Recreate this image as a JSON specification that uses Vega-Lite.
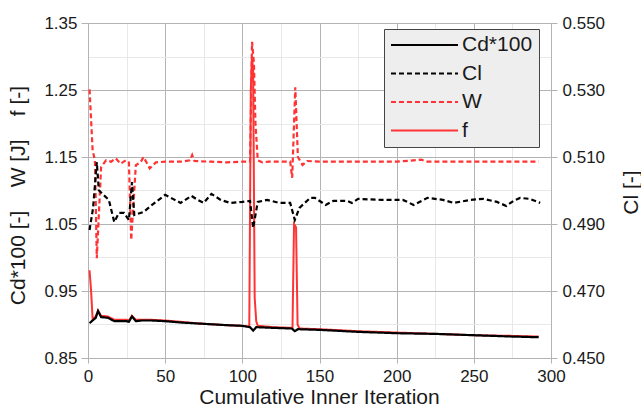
{
  "$schema": "https://vega.github.io/schema/vega-lite/v6.json",
  "width": 463,
  "height": 335,
  "autosize": {"type": "none"},
  "padding": {"left": 88, "top": 23, "right": 90, "bottom": 56},
  "background": "white",
  "config": {
    "font": "Liberation Sans",
    "view": {"stroke": null},
    "axis": {
      "labelFont": "Liberation Sans",
      "titleFont": "Liberation Sans",
      "labelFontSize": 17,
      "titleFontSize": 21,
      "titleFontWeight": "normal",
      "labelColor": "#1a1a1a",
      "titleColor": "#1a1a1a",
      "domainColor": "#b3b3b3",
      "tickColor": "#b3b3b3",
      "domainWidth": 1,
      "tickWidth": 1,
      "labelFlush": false
    }
  },
  "data": {
    "values": [
      {"x": 1, "s": "Cd*100", "v": 0.902},
      {"x": 3, "s": "Cd*100", "v": 0.906},
      {"x": 5, "s": "Cd*100", "v": 0.910},
      {"x": 6.5, "s": "Cd*100", "v": 0.920},
      {"x": 8.5, "s": "Cd*100", "v": 0.911},
      {"x": 13, "s": "Cd*100", "v": 0.910},
      {"x": 17, "s": "Cd*100", "v": 0.905},
      {"x": 25, "s": "Cd*100", "v": 0.905},
      {"x": 26.5, "s": "Cd*100", "v": 0.904},
      {"x": 28.5, "s": "Cd*100", "v": 0.912},
      {"x": 31, "s": "Cd*100", "v": 0.905},
      {"x": 35, "s": "Cd*100", "v": 0.906},
      {"x": 41, "s": "Cd*100", "v": 0.906},
      {"x": 50, "s": "Cd*100", "v": 0.905},
      {"x": 60, "s": "Cd*100", "v": 0.903},
      {"x": 75, "s": "Cd*100", "v": 0.901},
      {"x": 90, "s": "Cd*100", "v": 0.899},
      {"x": 100, "s": "Cd*100", "v": 0.898},
      {"x": 105, "s": "Cd*100", "v": 0.896},
      {"x": 107, "s": "Cd*100", "v": 0.891},
      {"x": 109, "s": "Cd*100", "v": 0.896},
      {"x": 120, "s": "Cd*100", "v": 0.895},
      {"x": 132, "s": "Cd*100", "v": 0.894},
      {"x": 134, "s": "Cd*100", "v": 0.890},
      {"x": 136, "s": "Cd*100", "v": 0.893},
      {"x": 150, "s": "Cd*100", "v": 0.892},
      {"x": 175, "s": "Cd*100", "v": 0.889},
      {"x": 200, "s": "Cd*100", "v": 0.887},
      {"x": 225, "s": "Cd*100", "v": 0.886},
      {"x": 250, "s": "Cd*100", "v": 0.884},
      {"x": 275, "s": "Cd*100", "v": 0.882},
      {"x": 292, "s": "Cd*100", "v": 0.881},

      {"x": 1, "s": "f", "v": 0.981},
      {"x": 2, "s": "f", "v": 0.950},
      {"x": 3, "s": "f", "v": 0.908},
      {"x": 5, "s": "f", "v": 0.912},
      {"x": 6.5, "s": "f", "v": 0.921},
      {"x": 8.5, "s": "f", "v": 0.913},
      {"x": 13, "s": "f", "v": 0.912},
      {"x": 17, "s": "f", "v": 0.907},
      {"x": 25, "s": "f", "v": 0.907},
      {"x": 26.5, "s": "f", "v": 0.906},
      {"x": 28.5, "s": "f", "v": 0.913},
      {"x": 31, "s": "f", "v": 0.907},
      {"x": 41, "s": "f", "v": 0.907},
      {"x": 50, "s": "f", "v": 0.906},
      {"x": 60, "s": "f", "v": 0.904},
      {"x": 75, "s": "f", "v": 0.901},
      {"x": 90, "s": "f", "v": 0.899},
      {"x": 100, "s": "f", "v": 0.898},
      {"x": 104.5, "s": "f", "v": 0.897},
      {"x": 105.5, "s": "f", "v": 1.25},
      {"x": 106.2, "s": "f", "v": 1.30},
      {"x": 107, "s": "f", "v": 1.28},
      {"x": 108, "s": "f", "v": 0.94},
      {"x": 109, "s": "f", "v": 0.905},
      {"x": 110, "s": "f", "v": 0.898},
      {"x": 120, "s": "f", "v": 0.896},
      {"x": 132.5, "s": "f", "v": 0.895},
      {"x": 133.5, "s": "f", "v": 1.05},
      {"x": 134.8, "s": "f", "v": 1.045},
      {"x": 135.8, "s": "f", "v": 0.90},
      {"x": 137, "s": "f", "v": 0.894},
      {"x": 150, "s": "f", "v": 0.893},
      {"x": 175, "s": "f", "v": 0.890},
      {"x": 200, "s": "f", "v": 0.888},
      {"x": 225, "s": "f", "v": 0.886},
      {"x": 250, "s": "f", "v": 0.884},
      {"x": 275, "s": "f", "v": 0.883},
      {"x": 292, "s": "f", "v": 0.882},

      {"x": 1, "s": "W", "v": 1.251},
      {"x": 3, "s": "W", "v": 1.16},
      {"x": 4.5, "s": "W", "v": 1.145},
      {"x": 5.7, "s": "W", "v": 0.999},
      {"x": 8.5, "s": "W", "v": 1.135},
      {"x": 11.7, "s": "W", "v": 1.145},
      {"x": 15, "s": "W", "v": 1.143},
      {"x": 18, "s": "W", "v": 1.148},
      {"x": 21, "s": "W", "v": 1.140},
      {"x": 24.5, "s": "W", "v": 1.145},
      {"x": 26.5, "s": "W", "v": 1.142},
      {"x": 28, "s": "W", "v": 1.026},
      {"x": 31, "s": "W", "v": 1.138},
      {"x": 34, "s": "W", "v": 1.142},
      {"x": 36, "s": "W", "v": 1.150},
      {"x": 40, "s": "W", "v": 1.133},
      {"x": 44, "s": "W", "v": 1.142},
      {"x": 50, "s": "W", "v": 1.143},
      {"x": 60, "s": "W", "v": 1.143},
      {"x": 66, "s": "W", "v": 1.145},
      {"x": 67.5, "s": "W", "v": 1.153},
      {"x": 69, "s": "W", "v": 1.144},
      {"x": 80, "s": "W", "v": 1.143},
      {"x": 90, "s": "W", "v": 1.142},
      {"x": 100, "s": "W", "v": 1.143},
      {"x": 105, "s": "W", "v": 1.143},
      {"x": 106.3, "s": "W", "v": 1.322},
      {"x": 107.5, "s": "W", "v": 1.29},
      {"x": 108.5, "s": "W", "v": 1.20},
      {"x": 110, "s": "W", "v": 1.145},
      {"x": 113, "s": "W", "v": 1.142},
      {"x": 117, "s": "W", "v": 1.143},
      {"x": 125, "s": "W", "v": 1.143},
      {"x": 131, "s": "W", "v": 1.143},
      {"x": 132.3, "s": "W", "v": 1.119},
      {"x": 134.3, "s": "W", "v": 1.254},
      {"x": 136, "s": "W", "v": 1.150},
      {"x": 139, "s": "W", "v": 1.138},
      {"x": 142, "s": "W", "v": 1.144},
      {"x": 150, "s": "W", "v": 1.143},
      {"x": 175, "s": "W", "v": 1.143},
      {"x": 200, "s": "W", "v": 1.143},
      {"x": 216, "s": "W", "v": 1.146},
      {"x": 220, "s": "W", "v": 1.143},
      {"x": 250, "s": "W", "v": 1.143},
      {"x": 275, "s": "W", "v": 1.143},
      {"x": 292, "s": "W", "v": 1.143},

      {"x": 1, "s": "Cl", "v": 0.4882},
      {"x": 3.3, "s": "Cl", "v": 0.4948},
      {"x": 5.7, "s": "Cl", "v": 0.5085},
      {"x": 7, "s": "Cl", "v": 0.5001},
      {"x": 10, "s": "Cl", "v": 0.4987},
      {"x": 13.5, "s": "Cl", "v": 0.4972},
      {"x": 17, "s": "Cl", "v": 0.4906},
      {"x": 20, "s": "Cl", "v": 0.4933},
      {"x": 23.3, "s": "Cl", "v": 0.4933},
      {"x": 26.5, "s": "Cl", "v": 0.4912},
      {"x": 28.5, "s": "Cl", "v": 0.5025},
      {"x": 30, "s": "Cl", "v": 0.4927},
      {"x": 36, "s": "Cl", "v": 0.4936},
      {"x": 41.5, "s": "Cl", "v": 0.4957},
      {"x": 50, "s": "Cl", "v": 0.4987},
      {"x": 55, "s": "Cl", "v": 0.4975},
      {"x": 60, "s": "Cl", "v": 0.4963},
      {"x": 67, "s": "Cl", "v": 0.4984},
      {"x": 71, "s": "Cl", "v": 0.4972},
      {"x": 75, "s": "Cl", "v": 0.4963},
      {"x": 80, "s": "Cl", "v": 0.4990},
      {"x": 86, "s": "Cl", "v": 0.4972},
      {"x": 92, "s": "Cl", "v": 0.4963},
      {"x": 100, "s": "Cl", "v": 0.4966},
      {"x": 105, "s": "Cl", "v": 0.4969},
      {"x": 107, "s": "Cl", "v": 0.4888},
      {"x": 110, "s": "Cl", "v": 0.4966},
      {"x": 116, "s": "Cl", "v": 0.4972},
      {"x": 124, "s": "Cl", "v": 0.4963},
      {"x": 131, "s": "Cl", "v": 0.4963},
      {"x": 134, "s": "Cl", "v": 0.4912},
      {"x": 137, "s": "Cl", "v": 0.4948},
      {"x": 144, "s": "Cl", "v": 0.4978},
      {"x": 147, "s": "Cl", "v": 0.4978},
      {"x": 154, "s": "Cl", "v": 0.4957},
      {"x": 159, "s": "Cl", "v": 0.4969},
      {"x": 168, "s": "Cl", "v": 0.4969},
      {"x": 171, "s": "Cl", "v": 0.4963},
      {"x": 175, "s": "Cl", "v": 0.4975},
      {"x": 190, "s": "Cl", "v": 0.4972},
      {"x": 204, "s": "Cl", "v": 0.4972},
      {"x": 211, "s": "Cl", "v": 0.4957},
      {"x": 220, "s": "Cl", "v": 0.4978},
      {"x": 230, "s": "Cl", "v": 0.4972},
      {"x": 237, "s": "Cl", "v": 0.4963},
      {"x": 248, "s": "Cl", "v": 0.4972},
      {"x": 256, "s": "Cl", "v": 0.4975},
      {"x": 265, "s": "Cl", "v": 0.4966},
      {"x": 271, "s": "Cl", "v": 0.4954},
      {"x": 276, "s": "Cl", "v": 0.4970},
      {"x": 280, "s": "Cl", "v": 0.4978},
      {"x": 286, "s": "Cl", "v": 0.4975},
      {"x": 293, "s": "Cl", "v": 0.4963}
    ]
  },
  "encoding": {
    "x": {
      "field": "x",
      "type": "quantitative",
      "scale": {"domain": [0, 300], "nice": false, "zero": false},
      "axis": {
        "title": "Cumulative Inner Iteration",
        "values": [0, 25, 50, 75, 100, 125, 150, 175, 200, 225, 250, 275, 300],
        "labelExpr": "datum.value % 50 == 0 ? datum.label : ''",
        "labelFlush": false,
        "grid": true,
        "gridColor": {"condition": {"test": "datum.value % 50 == 0", "value": "#b3b3b3"}, "value": "#e8e8e8"},
        "tickOpacity": {"condition": {"test": "datum.value % 50 == 0", "value": 1}, "value": 0},
        "tickSize": 5,
        "labelPadding": 5,
        "titleX": 231,
        "titleY": 39,
        "titleBaseline": "middle"
      }
    },
    "color": {
      "field": "s",
      "type": "nominal",
      "scale": {"domain": ["Cd*100", "Cl", "W", "f"], "range": ["#000000", "#000000", "#ff3333", "#ff3333"]},
      "legend": {
        "title": null,
        "orient": "none",
        "legendX": 296,
        "legendY": 6,
        "padding": 6,
        "fillColor": "#eeeeee",
        "strokeColor": "#444444",
        "symbolType": "stroke",
        "symbolSize": 4489,
        "symbolStrokeWidth": 2,
        "clipHeight": 20,
        "rowPadding": 7.5,
        "labelFontSize": 21,
        "labelFont": "Liberation Sans",
        "labelColor": "#1a1a1a",
        "labelOffset": 3
      }
    },
    "strokeDash": {
      "field": "s",
      "type": "nominal",
      "scale": {"domain": ["Cd*100", "Cl", "W", "f"], "range": [[1, 0], [5, 3], [5, 3], [1, 0]]},
      "legend": {
        "title": null,
        "orient": "none",
        "legendX": 296,
        "legendY": 6
      }
    }
  },
  "layer": [
    {
      "encoding": {
        "y": {
          "field": "v",
          "type": "quantitative",
          "scale": {"domain": [0.85, 1.35], "nice": false, "zero": false},
          "axis": {
            "title": "Cd*100 [-]\u00a0\u00a0\u00a0\u00a0W [J]\u00a0\u00a0\u00a0\u00a0f [-]",
            "values": [0.85, 0.9, 0.95, 1.0, 1.05, 1.1, 1.15, 1.2, 1.25, 1.3, 1.35],
            "labelExpr": "round(datum.value*100) % 10 == 5 ? format(datum.value, '.2f') : ''",
            "grid": true,
            "gridColor": {"condition": {"test": "round(datum.value*100) % 10 == 5", "value": "#b3b3b3"}, "value": "#e8e8e8"},
            "tickOpacity": {"condition": {"test": "round(datum.value*100) % 10 == 5", "value": 1}, "value": 0},
            "tickSize": 7,
            "labelPadding": 4,
            "titleX": -70,
            "titleY": 172,
            "titleAngle": 270,
            "titleBaseline": "middle"
          }
        }
      },
      "layer": [
        {
          "transform": [{"filter": "datum.s == 'f'"}],
          "mark": {"type": "line", "strokeWidth": 2, "clip": true}
        },
        {
          "transform": [{"filter": "datum.s == 'W'"}],
          "mark": {"type": "line", "strokeWidth": 2.2, "clip": true}
        },
        {
          "transform": [{"filter": "datum.s == 'Cd*100'"}],
          "mark": {"type": "line", "strokeWidth": 2.2, "clip": true}
        }
      ]
    },
    {
      "transform": [{"filter": "datum.s == 'Cl'"}],
      "mark": {"type": "line", "strokeWidth": 2.2, "clip": true},
      "encoding": {
        "y": {
          "field": "v",
          "type": "quantitative",
          "scale": {"domain": [0.45, 0.55], "nice": false, "zero": false},
          "axis": {
            "title": "Cl [-]",
            "orient": "right",
            "values": [0.45, 0.47, 0.49, 0.51, 0.53, 0.55],
            "format": ".3f",
            "grid": false,
            "tickSize": 6,
            "labelPadding": 5,
            "titleX": 80,
            "titleY": 169,
            "titleAngle": 270,
            "titleBaseline": "middle"
          }
        }
      }
    }
  ],
  "resolve": {"scale": {"y": "independent"}}
}
